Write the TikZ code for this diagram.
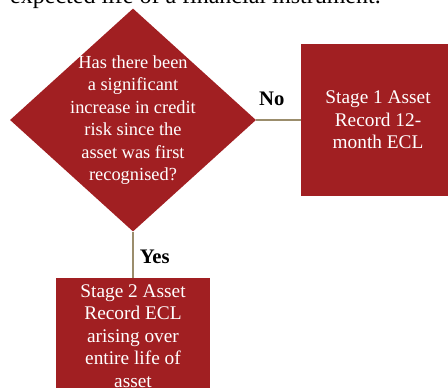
\documentclass[tikz,border=0pt]{standalone}
\usepackage{fontspec}
\setmainfont{Liberation Serif}
\usetikzlibrary{shapes.geometric}

\definecolor{stagered}{HTML}{A11F22}
\definecolor{linkline}{HTML}{9B8D6C}

\tikzset{
  decision/.style={diamond, fill=stagered, inner sep=0pt, minimum width=184.5pt, minimum height=167.25pt},
  stagebox/.style={rectangle, fill=stagered, inner sep=0pt, minimum width=115.5pt},
  boxtext/.style={text=white, align=center, font=\fontsize{14.5}{16.9}\selectfont},
  link/.style={draw=linkline, line width=1.5pt},
  answer/.style={font=\fontsize{15.5}{18}\selectfont\bfseries, text=black}
}

\begin{document}
\begin{tikzpicture}[x=0.75pt, y=-0.75pt]
  \useasboundingbox (0,0) rectangle (448,387);
  \clip (0,0) rectangle (448,387);

  % end of the sentence above the chart
  \node[anchor=base east, inner sep=0pt, font=\fontsize{18}{21}\selectfont] (intro) at (381,3.5) {expected life of a financial instrument.};

  \node[decision] (dia) at (133,120) {};
  \node[boxtext, font=\fontsize{13.8}{16.9}\selectfont] (q) at (dia.center) {Has there been\\a significant\\increase in credit\\risk since the\\asset was first\\recognised?};

  \node[stagebox, minimum height=114pt] (s1) at (378,120) {};
  \node[boxtext] (s1text) at (s1.center) {Stage 1 Asset\\Record 12-\\month ECL};

  \node[stagebox, minimum height=91.5pt] (s2) at (133,339) {};
  \node[boxtext] (s2text) at (133,336) {Stage 2 Asset\\Record ECL\\arising over\\entire life of\\asset};

  \draw[link] (dia.east) -- node[answer, pos=0.35, above=7pt] {No} (s1.west);
  \draw[link] (dia.south) -- node[answer, pos=0.55, right=1pt] {Yes} (s2.north);
\end{tikzpicture}
\end{document}
